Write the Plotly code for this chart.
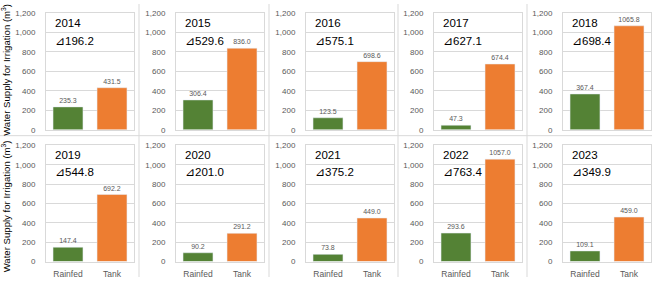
import plotly.graph_objects as go

years = [2014, 2015, 2016, 2017, 2018, 2019, 2020, 2021, 2022, 2023]
categories = ["Rainfed", "Tank"]
rainfed = [235.3, 306.4, 123.5, 47.3, 367.4, 147.4, 90.2, 73.8, 293.6, 109.1]
tank = [431.5, 836.0, 698.6, 674.4, 1065.8, 692.2, 291.2, 449.0, 1057.0, 459.0]
delta = [196.2, 529.6, 575.1, 627.1, 698.4, 544.8, 201.0, 375.2, 763.4, 349.9]
y_title = "Water Supply for Irrigation (m<sup>3</sup>)"

W, H = 652, 282
GREEN = "#548235"
ORANGE = "#ED7D31"
GRID = "#d9d9d9"
TXT = "#595959"
FONT = "Liberation Sans, Arial, sans-serif"

box_left = [46, 176, 306, 434, 563]
box_w = 88
rows = [(9, 130), (146, 266)]
year_y = [19.5, 155.5]
delta_y = [38, 174]

fig = go.Figure()
layout = {}
annotations = []
for i, yr in enumerate(years):
    r, c = divmod(i, 5)
    n = i + 1
    xa = "x" if n == 1 else f"x{n}"
    ya = "y" if n == 1 else f"y{n}"
    fig.add_trace(go.Bar(
        x=categories, y=[rainfed[i], tank[i]],
        marker=dict(color=[GREEN, ORANGE]),
        xaxis=xa, yaxis=ya,
        texttemplate="%{y:.1f}", textposition="outside",
        textfont=dict(size=7, color=TXT), cliponaxis=False,
        constraintext="none", showlegend=False, hoverinfo="skip",
    ))
    l = box_left[c]
    top, bot = rows[r]
    layout["xaxis" if n == 1 else f"xaxis{n}"] = dict(
        domain=[l / W, min((l + box_w) / W, 1)], anchor=ya,
        showline=True, mirror=True, linecolor=GRID, linewidth=1,
        showgrid=False, showticklabels=(r == 1), ticks="",
        tickfont=dict(size=8.5, color=TXT), ticklabelstandoff=4,
    )
    layout["yaxis" if n == 1 else f"yaxis{n}"] = dict(
        domain=[1 - bot / H, 1 - top / H], anchor=xa,
        range=[0, 1200], dtick=200, tickformat=",",
        showgrid=True, gridcolor=GRID, gridwidth=1, zeroline=False,
        showline=True, mirror=True, linecolor=GRID, linewidth=1,
        ticks="", tickfont=dict(size=8, color=TXT), ticklabelstandoff=8,
    )
    annotations.append(dict(
        text=str(yr), xref="paper", yref="paper",
        x=(l + 7) / W, y=1 - year_y[r] / H, xanchor="left", yanchor="middle",
        showarrow=False, font=dict(size=11.5, color="#000000", family=FONT),
    ))
    annotations.append(dict(
        text=f"⊿{delta[i]:.1f}", xref="paper", yref="paper",
        x=(l + 7) / W, y=1 - delta_y[r] / H, xanchor="left", yanchor="middle",
        showarrow=False, font=dict(size=11.5, color="#000000", family=FONT),
    ))

for yc in [68, 209]:
    annotations.append(dict(
        text=y_title, xref="paper", yref="paper", x=6 / W, y=1 - yc / H,
        xanchor="center", yanchor="middle", textangle=-90, showarrow=False,
        font=dict(size=9.6, color="#000000", family=FONT),
    ))

shapes = []
for xs in [139, 269, 398, 527]:
    shapes.append(dict(type="line", xref="paper", yref="paper",
                       x0=xs / W, x1=xs / W, y0=0, y1=1,
                       line=dict(color=GRID, width=1)))
shapes.append(dict(type="line", xref="paper", yref="paper",
                   x0=0, x1=1, y0=1 - 136 / H, y1=1 - 136 / H,
                   line=dict(color=GRID, width=1)))

fig.update_layout(
    width=W, height=H, margin=dict(l=0, r=0, t=0, b=0),
    paper_bgcolor="white", plot_bgcolor="white",
    font=dict(family=FONT, color=TXT),
    bargap=0.32, annotations=annotations, shapes=shapes,
    **layout,
)
fig.write_html("out.html")
